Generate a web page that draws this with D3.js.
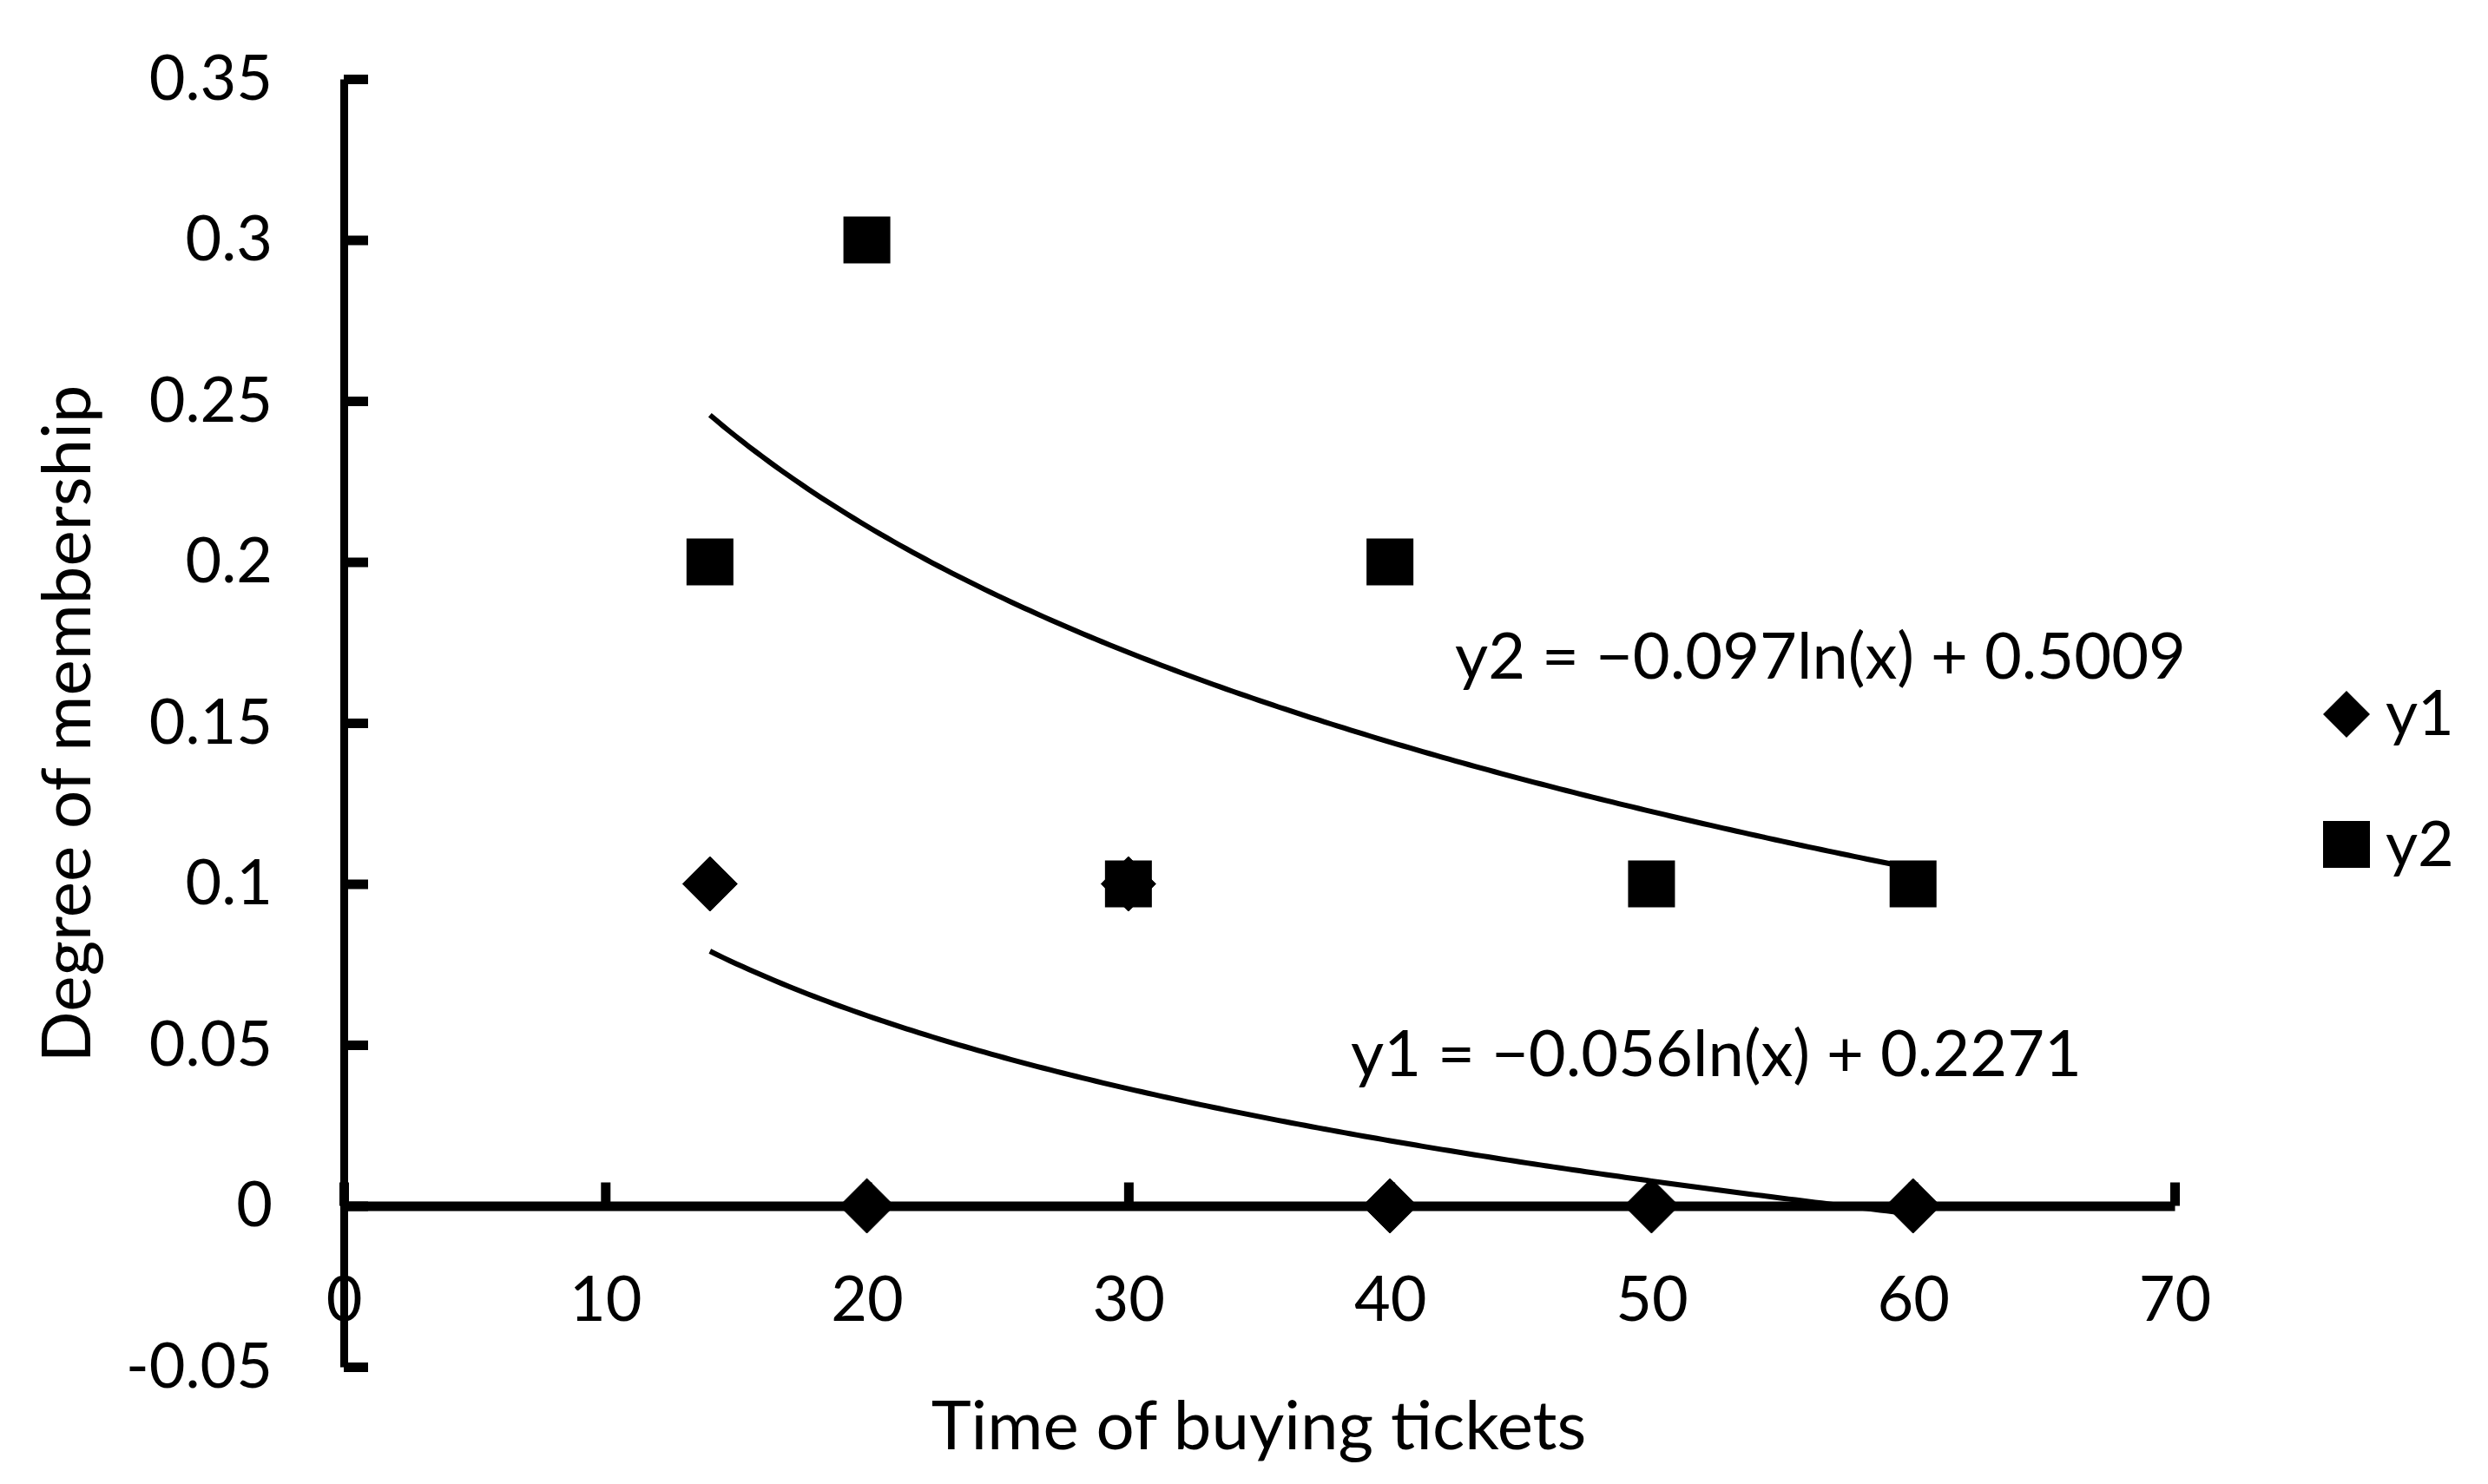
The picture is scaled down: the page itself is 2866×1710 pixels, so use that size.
<!DOCTYPE html>
<html>
<head>
<meta charset="utf-8">
<title>Degree of membership</title>
<style>
  body { margin: 0; background: #fff; }
  svg text { font-family: Lato, "Open Sans", sans-serif; fill: #000; }
</style>
<script src="https://d3js.org/d3.v7.min.js"></script>
</head>
<body>
<svg id="chart" width="2866" height="1710"></svg>
<script>
// data
var times = [14, 20, 30, 40, 50, 60];
var y1 = [0.1, 0, 0.1, 0, 0, 0];
var y2 = [0.2, 0.3, 0.1, 0.2, 0.1, 0.1];
var seriesNames = ["y1", "y2"];
var xTicks = [0, 10, 20, 30, 40, 50, 60, 70];
var yTicks = [-0.05, 0, 0.05, 0.1, 0.15, 0.2, 0.25, 0.3, 0.35];
var eqLabels = ["y1 = \u22120.056ln(x) + 0.2271", "y2 = \u22120.097ln(x) + 0.5009"];

var svg = d3.select("#chart");

var x = d3.scaleLinear().domain([0, 70]).range([396, 2505]);
var y = d3.scaleLinear().domain([-0.05, 0.35]).range([1575, 91]);

// y axis: ticks point right, labels on the left (plain hyphen for negatives)
var yAxis = svg.append("g")
  .attr("transform", "translate(" + x(0) + ",0)")
  .call(d3.axisLeft(y).tickValues(yTicks).tickSizeInner(-28).tickSizeOuter(0)
    .tickPadding(82).tickFormat(function(d){ return String(+d.toFixed(2)); }));
yAxis.select(".domain").attr("stroke", "#000").attr("stroke-width", 9);
yAxis.selectAll(".tick line").attr("stroke", "#000").attr("stroke-width", 11);
yAxis.selectAll("text").attr("font-size", 72);
yAxis.attr("font-family", null).attr("font-size", null);

// x axis sits on y = 0, ticks point up
var xAxis = svg.append("g")
  .attr("transform", "translate(0," + y(0) + ")")
  .call(d3.axisBottom(x).tickValues(xTicks).tickSizeInner(-27).tickSizeOuter(0).tickPadding(81));
xAxis.select(".domain").attr("stroke", "#000").attr("stroke-width", 11);
xAxis.selectAll(".tick line").attr("stroke", "#000").attr("stroke-width", 11);
xAxis.selectAll("text").attr("font-size", 72);
xAxis.attr("font-family", null).attr("font-size", null);

// log trend lines, least squares on ln(x)
function logFit(xs, ys) {
  var lx = xs.map(Math.log);
  var mx = d3.mean(lx), my = d3.mean(ys);
  var num = d3.sum(lx, function(v, i){ return (v - mx) * (ys[i] - my); });
  var den = d3.sum(lx, function(v){ return (v - mx) * (v - mx); });
  var a = num / den;
  return { a: a, b: my - a * mx };
}

var line = d3.line()
  .x(function(d){ return x(d[0]); })
  .y(function(d){ return y(d[1]); });

[y1, y2].forEach(function(ys) {
  var f = logFit(times, ys);
  var xs = d3.range(d3.min(times), d3.max(times) + 0.01, 0.25);
  svg.append("path")
    .datum(xs.map(function(t){ return [t, f.a * Math.log(t) + f.b]; }))
    .attr("d", line)
    .attr("fill", "none")
    .attr("stroke", "#000")
    .attr("stroke-width", 6);
});

// markers
var diamond = function(cx, cy, r) {
  return "M" + cx + "," + (cy - r) + "L" + (cx + r) + "," + cy + "L" + cx + "," + (cy + r) + "L" + (cx - r) + "," + cy + "Z";
};

svg.append("g").selectAll("path")
  .data(times.map(function(t, i){ return [t, y1[i]]; }))
  .join("path")
  .attr("d", function(d){ return diamond(x(d[0]), y(d[1]), 31.5); })
  .attr("fill", "#000")
  .attr("stroke", "#000").attr("stroke-width", 1).attr("stroke-linejoin", "round");

svg.append("g").selectAll("rect")
  .data(times.map(function(t, i){ return [t, y2[i]]; }))
  .join("rect")
  .attr("x", function(d){ return x(d[0]) - 27; })
  .attr("y", function(d){ return y(d[1]) - 27; })
  .attr("width", 54).attr("height", 54)
  .attr("fill", "#000");

// equation labels
svg.append("text").attr("x", 1977).attr("y", 1240).attr("text-anchor", "middle")
  .attr("font-size", 74).text(eqLabels[0]);
svg.append("text").attr("x", 2097).attr("y", 782).attr("text-anchor", "middle")
  .attr("font-size", 74).text(eqLabels[1]);

// legend
var lg = svg.append("g");
lg.append("path").attr("d", diamond(2703, 823, 27)).attr("fill", "#000");
lg.append("rect").attr("x", 2676).attr("y", 946).attr("width", 54).attr("height", 54).attr("fill", "#000");
lg.append("text").attr("x", 2748).attr("y", 847).attr("font-size", 72).text(seriesNames[0]);
lg.append("text").attr("x", 2748).attr("y", 998).attr("font-size", 72).text(seriesNames[1]);

// axis titles
svg.append("text").attr("x", 1450).attr("y", 1670).attr("text-anchor", "middle")
  .attr("font-size", 78).text("Time of buying tickets");
svg.append("text").attr("transform", "translate(104,834) rotate(-90)").attr("text-anchor", "middle")
  .attr("font-size", 78).text("Degree of membership");
</script>
</body>
</html>
